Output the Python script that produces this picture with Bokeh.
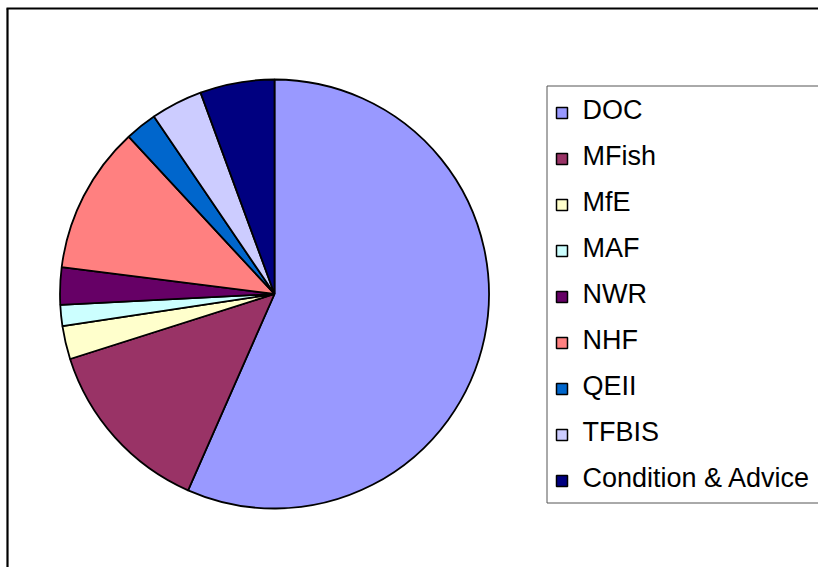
import numpy as np
from bokeh.plotting import figure
from bokeh.models import Range1d
from bokeh.core.properties import value
from bokeh.embed import file_html
from bokeh.resources import INLINE

# Data (percent shares)
categories = ["DOC", "MFish", "MfE", "MAF", "NWR", "NHF", "QEII", "TFBIS", "Condition & Advice"]
shares = [56.6, 13.5, 2.5, 1.6, 2.8, 11.1, 2.4, 3.9, 5.6]
colors = ["#9999FF", "#993366", "#FFFFCC", "#CCFFFF", "#660066", "#FF8080", "#0066CC", "#CCCCFF", "#000080"]

W, H = 818, 567
p = figure(width=W, height=H, output_backend="svg", toolbar_location=None,
           x_range=Range1d(0, W), y_range=Range1d(0, H),
           x_axis_type=None, y_axis_type=None, min_border=0)
p.grid.visible = False
p.outline_line_color = None
p.background_fill_color = "white"
p.border_fill_color = "white"

# helpers: picture pixel -> data
def px(x):
    return x
def py(y):
    return H - y

# pie
vals = np.array(shares, dtype=float)
frac = vals / vals.sum()
cum = np.concatenate([[0.0], np.cumsum(frac)])
start = np.pi / 2 - 2 * np.pi * cum[:-1]
end = np.pi / 2 - 2 * np.pi * cum[1:]
p.wedge(x=px(274), y=py(293.5), radius=214.5, start_angle=start, end_angle=end, direction="clock",
        fill_color=colors, line_color="black", line_width=1.8)

# outer chart border (top and left visible)
p.segment(x0=[px(7), px(6)], y0=[py(8), py(8)], x1=[px(7), px(W)], y1=[0, py(8)],
          line_color="black", line_width=2.2)

# legend box (extends past the right edge)
p.quad(left=px(546.5), right=px(900), top=py(85.5), bottom=py(502.5),
       fill_color="white", line_color="#555555", line_width=1)

n = len(categories)
idx = np.arange(n)
p.rect(x=np.full(n, px(561.5)), y=py(112.5) - 46 * idx, width=11, height=11,
       width_units="screen", height_units="screen",
       fill_color=colors, line_color="black", line_width=1.5)
p.text(x=np.full(n, px(582)), y=py(109) - 46 * idx, text=categories,
       text_font=value("Liberation Sans"), text_font_size="27px",
       text_baseline="middle", text_align="left", text_color="black")

open("out.html", "w").write(file_html(p, INLINE))
